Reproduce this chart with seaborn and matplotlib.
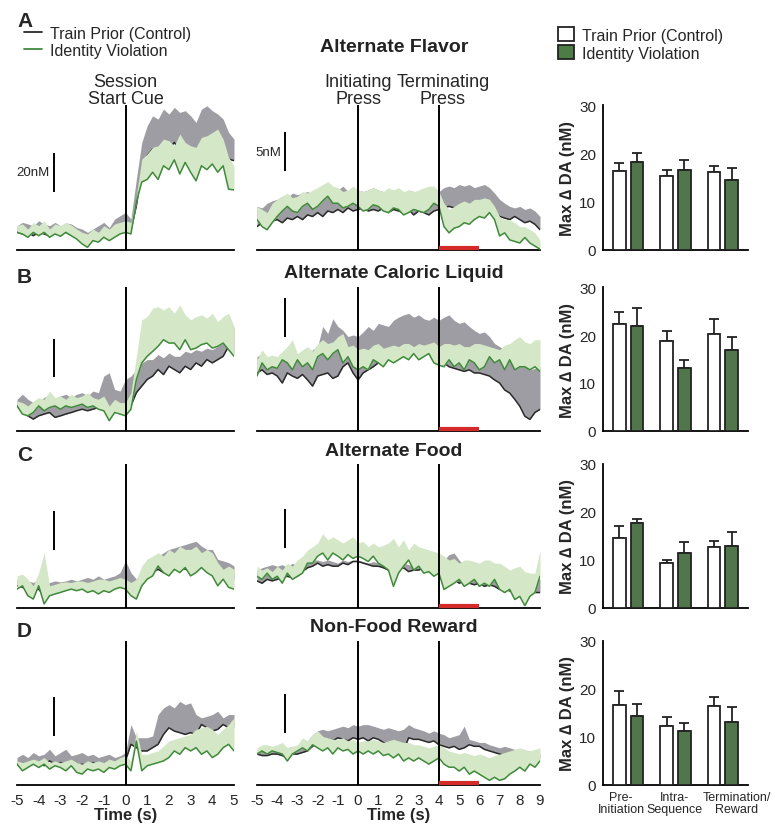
import numpy as np
import pandas as pd
import matplotlib
matplotlib.use("Agg")
import matplotlib.pyplot as plt
import seaborn as sns
from matplotlib.lines import Line2D
from matplotlib.patches import Patch
import matplotlib.transforms as mtransforms

# ---------------- data ----------------
t_left = np.arange(-5, 5.001, 0.25)    # Session start cue window (s)
t_right = np.arange(-5, 9.001, 0.25)   # Initiating press window (s)

# Row A - Alternate Flavor
A_L_ctrl_mean = [9.0,8.2,9.0,7.3,9.0,8.2,7.3,9.0,8.2,9.0,7.6,6.5,4.8,3.1,5.6,4.8,7.3,6.5,8.2,9.0,10.7,
                 9.9,22.6,39.6,48.1,51.5,49.8,53.2,51.5,54.9,50.7,53.2,51.5,48.1,52.4,51.5,54.1,50.7,52.4,46.4,45.6]
A_L_ctrl_upper = [12.4,14.1,13.3,12.4,14.9,13.3,12.4,14.1,12.4,13.8,13.3,11.5,10.7,9.0,10.7,12.4,14.1,11.5,15.8,17.5,19.2,
                  15.8,36.2,54.9,63.4,68.5,66.8,71.9,69.4,72.8,70.2,71.1,68.5,65.1,71.9,73.6,71.1,69.4,66.8,60.0,56.6]
A_L_viol_mean = [9.0,8.2,6.5,9.0,7.3,9.0,6.5,8.2,7.0,9.0,7.3,5.6,3.1,1.4,4.8,4.0,6.5,4.8,6.5,8.2,9.0,
                 8.2,24.5,34.7,36.0,39.7,36.0,43.0,41.0,46.0,38.8,44.7,39.7,35.3,43.0,41.0,43.9,39.7,43.0,31.0,30.7]
A_L_viol_upper = [12.4,13.3,10.7,14.1,12.4,14.9,10.7,13.3,12.4,14.1,12.7,10.7,9.0,8.2,10.7,9.0,12.4,10.7,13.3,14.1,14.9,
                  14.1,27.7,46.4,49.0,52.4,53.2,56.6,55.8,53.2,59.2,54.9,53.2,52.4,57.5,58.3,60.0,61.7,56.6,47.3,43.0]
A_R_ctrl_mean = [3.0,3.5,2.8,3.7,3.9,3.5,4.1,3.9,4.3,3.9,4.5,4.3,4.8,4.3,5.0,4.8,5.2,4.8,5.4,5.0,
                 5.2,5.4,5.0,5.2,5.0,5.4,4.8,5.2,5.0,4.8,5.2,4.5,5.0,4.8,4.5,5.0,5.2,5.4,5.6,5.4,5.6,5.2,5.6,5.4,5.8,5.6,5.6,5.0,4.3,4.1,3.9,4.3,3.9,3.5,3.7,3.3,2.6]
A_R_ctrl_upper = [5.6,5.4,6.0,6.3,6.5,6.9,6.7,7.3,7.1,7.3,7.5,7.1,7.3,7.7,7.5,8.0,7.7,8.2,7.5,7.7,
                  7.7,7.5,7.7,8.0,7.7,7.5,7.3,7.7,7.5,7.3,7.7,7.5,7.3,7.7,7.5,7.3,7.5,8.0,8.2,8.0,8.4,8.2,8.4,8.0,8.2,8.4,8.0,7.3,6.5,6.0,5.6,5.4,5.6,5.2,5.4,5.0,4.3]
A_R_viol_mean = [3.9,3.0,2.6,3.5,4.3,5.0,5.6,5.0,4.8,5.6,6.0,5.2,5.6,6.3,6.9,6.0,6.0,5.4,5.6,6.0,
                 5.6,5.0,5.2,5.8,5.6,5.0,4.8,5.4,5.2,4.5,4.8,5.2,5.0,4.8,5.2,6.0,5.6,3.0,2.2,2.8,3.0,3.5,3.3,3.9,4.3,4.1,4.8,3.9,1.8,2.2,1.3,1.1,0.9,1.6,0.9,0.5,0.1]
A_R_viol_upper = [5.6,5.2,4.8,6.0,6.5,6.9,7.3,6.7,6.9,7.5,7.3,7.7,8.0,8.4,8.8,8.2,8.0,7.5,7.7,8.2,
                  7.7,7.5,7.7,8.0,7.7,7.5,8.0,7.7,8.0,7.5,7.7,7.5,7.7,8.0,8.2,8.2,7.5,6.0,5.2,5.6,6.0,6.3,6.0,6.5,6.5,6.7,6.5,5.6,4.3,3.9,3.9,3.5,3.0,3.0,2.6,2.2,1.3]

# Row B - Alternate Caloric Liquid
B_L_ctrl_mean = [12.9,11.2,7.8,6.1,7.8,8.7,9.5,7.0,7.8,8.7,9.5,10.4,11.2,10.4,11.2,12.1,12.9,12.1,12.1,12.9,10.4,
                 12.9,19.7,23.1,26.5,28.2,31.6,29.0,33.3,31.6,29.9,33.3,31.6,35.0,33.3,36.7,35.0,36.7,38.4,43.5,40.1]
B_L_ctrl_upper = [16.3,18.9,16.3,14.6,15.4,17.2,18.9,16.3,18.0,18.9,17.2,18.9,19.7,18.0,20.5,19.7,28.2,29.9,21.4,20.5,26.5,
                  28.2,31.6,35.0,36.7,36.7,39.3,37.6,40.1,38.4,38.4,41.0,40.1,41.8,41.0,42.6,41.8,43.5,45.2,48.6,53.7]
B_L_viol_mean = [12.9,8.7,7.8,9.5,12.9,10.4,12.1,12.9,11.2,12.9,12.1,12.9,13.8,12.1,12.9,11.2,10.4,5.3,9.5,8.7,7.8,
                 11.2,26.5,35.0,38.4,40.9,43.5,46.9,45.2,45.2,41.8,46.9,41.8,42.6,44.4,45.2,42.6,43.5,45.2,41.8,38.4]
B_L_viol_upper = [15.4,14.6,12.9,15.4,17.2,16.3,20.5,17.2,18.0,16.3,18.9,17.2,18.0,19.7,17.2,16.3,18.0,12.9,16.3,14.6,14.6,
                  19.7,38.4,57.1,58.8,63.1,63.9,62.2,63.9,60.5,64.8,59.7,57.1,58.8,59.7,58.0,60.5,56.2,58.8,60.5,53.7]
B_R_ctrl_mean = [7.5,7.9,7.3,7.5,7.1,6.2,7.5,7.1,6.8,7.3,6.6,5.8,7.1,7.3,7.5,6.8,7.1,8.3,8.8,7.5,
                 6.6,7.5,7.9,8.3,8.8,9.0,9.2,9.6,10.0,9.8,10.5,10.3,10.5,10.0,10.0,9.6,9.2,8.8,8.3,8.1,7.9,7.7,7.9,7.5,7.5,7.3,7.1,6.6,6.2,5.3,4.9,4.1,3.2,1.9,1.5,2.4,2.8]
B_R_ctrl_upper = [9.6,10.0,9.2,9.0,8.8,9.2,9.6,9.4,9.2,9.6,9.8,10.5,10.9,13.5,12.6,14.5,13.5,13.0,12.2,12.4,
                  12.2,12.8,13.5,13.0,13.9,13.7,13.5,14.3,14.7,15.0,15.2,14.7,15.0,14.5,14.3,14.7,14.3,14.7,15.0,14.3,13.9,14.1,13.5,13.0,12.6,12.8,12.2,11.3,10.9,10.5,9.6,9.2,8.8,8.3,7.9,8.1,8.3]
B_R_viol_mean = [7.1,8.8,7.9,8.3,8.1,9.2,8.8,7.9,9.2,8.3,8.8,7.9,9.6,10.0,9.2,10.0,10.5,8.8,9.6,8.3,
                 7.9,8.3,7.9,9.2,8.8,8.3,9.2,8.8,9.2,9.6,9.2,10.0,9.2,9.6,10.0,8.8,8.5,8.3,9.2,8.3,8.8,7.9,9.2,8.8,7.9,8.3,9.6,8.8,9.2,7.9,9.2,7.9,8.3,8.3,7.9,8.3,7.7]
B_R_viol_upper = [9.2,10.5,9.6,9.8,9.6,10.3,10.9,11.8,10.0,10.5,10.9,10.3,11.3,11.8,11.3,11.5,12.2,12.6,10.9,11.1,
                  10.5,10.7,10.5,11.1,11.3,10.7,10.9,11.1,10.9,11.3,11.3,10.9,11.3,11.1,11.3,11.5,10.9,11.3,11.3,11.1,11.3,10.9,10.9,11.3,11.3,11.1,10.9,10.7,10.5,11.1,11.3,11.8,12.2,11.5,11.3,11.8,11.8]

# Row C - Alternate Food
C_L_ctrl_mean = [11.4,10.6,9.7,8.9,9.7,6.3,8.9,9.7,9.7,10.6,10.6,10.0,10.6,9.7,9.7,8.9,10.6,9.7,11.4,10.6,11.4,
                 10.6,11.4,13.9,16.5,18.2,19.9,18.2,19.0,19.9,20.8,19.9,19.9,21.6,20.8,19.9,18.2,17.4,16.5,14.8,14.8]
C_L_ctrl_upper = [14.8,13.1,13.9,13.1,14.8,11.4,13.1,13.9,13.4,13.9,14.8,13.9,14.8,15.7,14.8,16.5,14.8,15.7,16.5,18.2,24.2,
                  18.2,14.8,19.9,25.0,25.9,26.7,28.4,30.1,30.9,31.8,32.6,33.5,34.3,31.8,30.1,30.1,25.0,24.2,23.3,21.6]
C_L_viol_mean = [9.7,11.4,6.3,4.6,11.4,2.1,6.3,7.2,8.0,8.9,9.7,8.9,9.7,8.0,8.9,7.2,8.9,8.0,9.7,10.6,9.7,
                 6.3,4.6,11.4,14.8,16.5,21.6,18.2,16.5,19.9,18.2,20.8,16.5,18.2,20.8,18.2,16.5,11.4,14.8,10.6,9.7]
C_L_viol_upper = [16.5,17.4,14.8,11.4,18.2,28.4,11.4,12.2,13.1,13.4,13.1,13.9,13.9,13.1,13.9,14.8,14.8,13.9,14.8,15.7,14.8,
                  13.1,14.8,21.6,25.0,26.7,28.4,26.7,30.1,28.4,31.8,30.1,30.1,31.8,28.4,30.1,28.4,23.3,19.9,21.6,19.9]
C_R_ctrl_mean = [3.5,3.2,3.7,3.5,3.7,3.9,4.1,3.9,4.1,4.7,5.2,5.4,5.8,5.4,5.6,5.4,5.4,5.8,5.6,6.0,
                 6.0,5.8,5.6,5.4,5.4,5.2,4.9,5.4,4.9,5.2,4.7,4.9,4.9,5.2,4.7,4.5,4.5,3.7,3.5,3.7,3.2,3.5,3.2,3.0,3.2,2.8,3.0,2.8,2.4,2.6,2.2,2.4,2.0,2.2,1.7,2.0,2.0]
C_R_ctrl_upper = [4.9,5.2,5.4,5.6,5.4,5.6,5.2,5.8,5.4,5.8,6.0,6.2,6.2,6.0,6.2,6.0,5.8,6.2,6.0,6.2,
                  6.2,6.0,5.8,6.0,5.8,6.2,6.9,7.1,6.4,5.8,5.6,5.4,5.4,5.6,5.2,5.4,4.9,6.2,6.9,7.1,6.2,5.4,5.2,4.7,4.5,4.3,4.1,4.3,4.1,3.7,3.9,4.1,4.5,3.7,3.2,3.7,3.7]
C_R_viol_mean = [4.1,3.7,4.5,3.7,4.1,3.2,4.5,3.7,4.1,4.5,5.8,5.8,6.7,7.1,6.2,7.1,6.7,6.2,6.9,6.4,
                 6.7,6.4,6.0,6.7,5.8,5.4,4.9,2.8,4.5,5.4,6.2,4.9,5.4,4.5,4.7,4.1,4.5,2.4,2.8,3.2,3.7,2.8,3.2,3.7,2.8,3.2,2.8,3.7,2.4,2.0,2.4,1.1,1.5,0.3,1.5,2.0,4.1]
C_R_viol_upper = [5.4,4.9,5.2,4.7,5.4,4.9,5.8,5.4,6.2,6.7,7.5,7.9,8.4,9.6,8.8,9.2,8.8,8.4,8.8,9.2,
                  8.4,8.6,7.9,8.4,7.9,8.1,8.4,9.0,7.9,8.8,7.5,8.4,7.9,7.7,7.5,7.3,7.1,6.7,6.2,6.4,5.8,6.2,6.2,6.0,5.8,6.2,6.2,5.8,5.8,5.4,4.9,5.2,5.4,4.7,4.5,4.5,7.5]

# Row D - Non-Food Reward
D_L_ctrl_mean = [10.7,9.0,9.9,10.7,11.5,9.9,12.4,10.7,11.5,10.7,12.4,9.9,10.7,9.9,11.5,9.9,10.7,9.9,11.5,10.7,12.4,
                 20.9,19.2,17.5,17.5,19.2,20.9,26.0,29.4,27.7,26.9,26.0,26.9,26.0,31.1,29.4,27.7,28.6,31.1,29.4,29.4]
D_L_ctrl_upper = [14.1,15.8,14.1,16.7,15.0,15.8,18.4,15.0,16.7,18.4,15.0,15.8,16.7,15.0,15.8,14.1,15.0,15.8,14.1,15.0,16.7,
                  31.1,24.3,24.3,24.3,25.2,36.2,39.6,41.3,39.6,43.0,41.3,42.2,36.2,34.5,35.3,36.2,37.9,34.5,36.2,36.2]
D_L_viol_mean = [10.7,7.3,9.0,10.7,9.0,10.7,8.2,9.9,9.0,7.3,9.9,6.5,5.6,8.2,7.3,8.2,6.5,9.0,8.2,9.9,10.7,
                 7.3,22.6,7.3,9.9,10.7,11.5,12.4,14.1,17.5,15.8,19.2,17.5,19.2,15.8,17.5,14.1,15.8,19.2,20.9,17.5]
D_L_viol_upper = [12.4,11.5,12.4,13.3,12.4,14.1,11.5,12.4,11.5,12.4,13.3,11.5,10.7,12.4,11.5,12.4,11.5,13.3,12.4,14.1,15.0,
                  12.4,27.7,15.8,15.8,16.7,17.5,20.0,22.6,23.5,24.3,25.2,26.0,28.6,29.4,30.2,28.6,26.0,28.6,31.1,34.5]
D_R_ctrl_mean = [4.0,3.8,3.8,4.0,4.0,3.8,3.5,4.0,4.0,4.2,4.4,5.0,5.5,6.1,5.9,5.7,6.1,5.9,5.7,6.1,
                 5.9,6.1,5.7,6.1,5.9,5.5,5.2,5.5,5.2,4.4,6.1,5.9,5.9,5.7,5.5,5.7,5.2,5.0,4.8,5.0,4.6,4.8,5.2,5.0,5.0,4.6,4.4,4.2,4.0,3.8,3.5,3.3,3.1,2.9,2.9,3.1,3.5]
D_R_ctrl_upper = [4.4,4.6,4.8,4.6,4.8,5.0,4.8,5.0,4.8,5.2,5.7,6.5,7.0,7.2,7.0,7.2,7.4,7.6,7.4,7.8,
                  7.6,7.8,7.8,7.6,7.4,7.2,7.4,7.2,7.0,7.2,7.8,7.4,7.2,7.0,6.7,7.0,6.7,6.5,6.1,6.3,6.5,7.6,5.9,5.7,5.5,5.5,5.2,5.0,4.8,5.0,4.8,4.6,4.4,4.4,4.4,4.2,4.0]
D_R_viol_mean = [4.0,4.4,4.0,4.4,4.2,4.0,3.1,4.0,4.4,4.8,4.4,5.2,4.8,4.4,4.8,4.0,4.8,4.4,4.6,4.0,
                 4.4,4.0,4.4,4.0,4.4,3.8,4.0,3.5,4.0,3.1,3.5,3.1,3.5,3.1,2.7,3.1,3.5,2.7,2.3,2.3,1.8,2.3,1.4,1.8,1.4,1.0,0.6,1.0,0.6,0.8,1.4,1.8,2.3,1.8,2.7,2.3,3.1]
D_R_viol_upper = [4.8,5.2,5.2,5.0,5.2,5.5,4.8,5.0,5.2,6.1,5.7,6.5,7.0,6.3,6.1,5.9,5.9,6.1,5.7,5.9,
                  5.5,5.7,5.7,5.9,5.7,5.5,5.7,5.9,5.7,5.5,5.5,5.2,5.2,5.0,4.8,5.0,5.2,4.8,4.4,4.2,4.0,4.2,4.0,3.8,4.0,3.8,3.5,3.8,4.0,4.2,4.4,4.6,4.8,4.6,4.4,4.6,4.8]

# Bar data: Max delta DA (nM), mean and SEM
bar_categories = ["Pre-\nInitiation", "Intra-\nSequence", "Termination/\nReward"]
groups = ["Train Prior (Control)", "Identity Violation"]
A_bar_ctrl = [16.4, 15.3, 16.2]; A_err_ctrl = [1.6, 1.3, 1.2]
A_bar_viol = [18.2, 16.5, 14.5]; A_err_viol = [1.8, 2.2, 2.4]
B_bar_ctrl = [22.3, 18.7, 20.2]; B_err_ctrl = [2.4, 2.2, 3.2]
B_bar_viol = [21.9, 13.1, 16.9]; B_err_viol = [3.8, 1.7, 2.6]
C_bar_ctrl = [14.5, 9.3, 12.8];  C_err_ctrl = [2.6, 0.7, 1.2]
C_bar_viol = [17.8, 11.4, 12.9]; C_err_viol = [0.7, 2.3, 2.9]
D_bar_ctrl = [16.7, 12.2, 16.4]; D_err_ctrl = [2.8, 1.9, 2.0]
D_bar_viol = [14.3, 11.3, 13.2]; D_err_viol = [2.5, 1.6, 3.0]

titles = ["Alternate Flavor", "Alternate Caloric Liquid", "Alternate Food", "Non-Food Reward"]
letters = ["A", "B", "C", "D"]
SCALE_LEFT = 20   # nM
SCALE_RIGHT = 5   # nM

rows = [
    (A_L_ctrl_mean, A_L_ctrl_upper, A_L_viol_mean, A_L_viol_upper,
     A_R_ctrl_mean, A_R_ctrl_upper, A_R_viol_mean, A_R_viol_upper,
     A_bar_ctrl, A_err_ctrl, A_bar_viol, A_err_viol),
    (B_L_ctrl_mean, B_L_ctrl_upper, B_L_viol_mean, B_L_viol_upper,
     B_R_ctrl_mean, B_R_ctrl_upper, B_R_viol_mean, B_R_viol_upper,
     B_bar_ctrl, B_err_ctrl, B_bar_viol, B_err_viol),
    (C_L_ctrl_mean, C_L_ctrl_upper, C_L_viol_mean, C_L_viol_upper,
     C_R_ctrl_mean, C_R_ctrl_upper, C_R_viol_mean, C_R_viol_upper,
     C_bar_ctrl, C_err_ctrl, C_bar_viol, C_err_viol),
    (D_L_ctrl_mean, D_L_ctrl_upper, D_L_viol_mean, D_L_viol_upper,
     D_R_ctrl_mean, D_R_ctrl_upper, D_R_viol_mean, D_R_viol_upper,
     D_bar_ctrl, D_err_ctrl, D_bar_viol, D_err_viol),
]

# ---------------- layout / style ----------------
W, H = 772, 828
row_px = [(106, 251), (288, 432), (465, 609), (642, 786)]   # top, bottom pixels
letter_px = [12, 268, 446, 622]
title_px = [47, 273, 452, 628]
scale_left_base = [29.6, 27.5, 29.6, 25.0]
scale_right_base = [10.1, 12.2, 7.8, 6.7]
# category label placement (x in category units, horizontal alignment)
cat_label_pos = [(-0.15, "center"), (0.97, "center"), (1.57, "left")]

GRAY_BAND = "#9e9da3"
BLACK_LINE = "#2a2a2a"
GREEN_BAND = "#d4e7c7"
GREEN_LINE = "#3f8a3b"
BAR_GREEN = "#4b7d45"
EDGE = "#222222"
RED = "#d42a2a"

sns.set_theme(style="white")
plt.rcParams["font.family"] = ["Liberation Sans", "DejaVu Sans"]
plt.rcParams["axes.linewidth"] = 1.3

fig = plt.figure(figsize=(W / 100, H / 100), dpi=100)


def frac_box(x0, x1, top, bot):
    return [x0 / W, 1 - bot / H, (x1 - x0) / W, (bot - top) / H]


def draw_trace(ax, t, cm, cu, vm, vu):
    ax.fill_between(t, cm, cu, color=GRAY_BAND, lw=0, zorder=1)
    sns.lineplot(x=t, y=cm, ax=ax, color=BLACK_LINE, lw=1.1, estimator=None, zorder=2)
    ax.fill_between(t, vm, vu, color=GREEN_BAND, lw=0, zorder=3)
    sns.lineplot(x=t, y=vm, ax=ax, color=GREEN_LINE, lw=1.1, estimator=None, zorder=4)


def style_trace(ax, xmin, xmax, ymax, show_labels):
    ax.set_xlim(xmin, xmax)
    ax.set_ylim(0, ymax)
    for s in ["left", "top", "right"]:
        ax.spines[s].set_visible(False)
    ax.spines["bottom"].set_color("black")
    ax.set_yticks([])
    ax.set_xticks(range(int(xmin), int(xmax) + 1))
    ax.tick_params(axis="x", direction="out", length=5, width=1.3, color="black",
                   pad=1, labelbottom=show_labels)
    ax.set_ylabel("")
    if show_labels:
        ax.set_xticklabels([str(v) for v in range(int(xmin), int(xmax) + 1)], fontsize=11)
        ax.set_xlabel("Time (s)", fontsize=12, fontweight="bold", labelpad=0)
    else:
        ax.set_xlabel("")


for i, r in enumerate(rows):
    (lcm, lcu, lvm, lvu, rcm, rcu, rvm, rvu, bc, bce, bv, bve) = r
    top, bot = row_px[i]
    last = i == len(rows) - 1

    # ----- left trace: session start cue -----
    axL = fig.add_axes(frac_box(17, 234, top, bot))
    draw_trace(axL, t_left, lcm, lcu, lvm, lvu)
    style_trace(axL, -5, 5, 74, last)
    axL.axvline(0, color="black", lw=1.4, zorder=6)
    sb = scale_left_base[i]
    axL.plot([-3.3, -3.3], [sb, sb + SCALE_LEFT], color="black", lw=1.4,
             solid_capstyle="butt", zorder=6)
    if i == 0:
        axL.text(-3.5, sb + SCALE_LEFT / 2, "20nM", ha="right", va="center", fontsize=9.5)
        axL.text(0, 1.012, "Session\nStart Cue", transform=axL.get_xaxis_transform(),
                 ha="center", va="baseline", fontsize=13, linespacing=1.05)

    # ----- right trace: lever presses -----
    axR = fig.add_axes(frac_box(257, 540, top, bot))
    draw_trace(axR, t_right, rcm, rcu, rvm, rvu)
    style_trace(axR, -5, 9, 18.6, last)
    axR.axvline(0, color="black", lw=1.4, zorder=6)
    axR.axvline(4, color="black", lw=1.4, zorder=6)
    axR.plot([4, 6], [0.3, 0.3], color=RED, lw=3, solid_capstyle="butt",
             clip_on=False, zorder=7)
    sb = scale_right_base[i]
    axR.plot([-3.6, -3.6], [sb, sb + SCALE_RIGHT], color="black", lw=1.4,
             solid_capstyle="butt", zorder=6)
    if i == 0:
        axR.text(-3.8, sb + SCALE_RIGHT / 2, "5nM", ha="right", va="center", fontsize=9.5)
        axR.text(0, 1.012, "Initiating\nPress", transform=axR.get_xaxis_transform(),
                 ha="center", va="baseline", fontsize=13, linespacing=1.05)
        axR.text(4.2, 1.012, "Terminating\nPress", transform=axR.get_xaxis_transform(),
                 ha="center", va="baseline", fontsize=13, linespacing=1.05)

    # ----- bars -----
    axB = fig.add_axes(frac_box(603, 748, top, bot))
    df = pd.DataFrame({
        "phase": bar_categories * 2,
        "group": [groups[0]] * 3 + [groups[1]] * 3,
        "value": list(bc) + list(bv),
    })
    sns.barplot(data=df, x="phase", y="value", hue="group", order=bar_categories,
                hue_order=groups, palette={groups[0]: "white", groups[1]: BAR_GREEN},
                edgecolor=EDGE, linewidth=1.3, width=0.75, gap=0.28, errorbar=None,
                legend=False, ax=axB, zorder=3)
    for cont, errs in zip(axB.containers, [bce, bve]):
        xs = [p.get_x() + p.get_width() / 2 for p in cont.patches]
        ys = [p.get_height() for p in cont.patches]
        axB.errorbar(xs, ys, yerr=[[0] * len(errs), errs], fmt="none", ecolor=EDGE,
                     elinewidth=1.3, capsize=3.5, capthick=1.3, zorder=2)
    axB.set_xlim(-0.53, 2.53)
    axB.set_ylim(0, 30)
    axB.set_yticks([0, 10, 20, 30])
    axB.set_yticklabels(["0", "10", "20", "30"], fontsize=11)
    for s in ["top", "right"]:
        axB.spines[s].set_visible(False)
    for s in ["left", "bottom"]:
        axB.spines[s].set_color("black")
    axB.tick_params(axis="both", direction="out", length=4, width=1.3, color="black", pad=1)
    axB.set_ylabel("Max \u2206 DA (nM)", fontsize=12, fontweight="bold", labelpad=3)
    axB.set_xlabel("")
    axB.set_xticks([0, 1, 2])
    axB.set_xticklabels([])
    if last:
        off = mtransforms.ScaledTranslation(0, -6 / 100, fig.dpi_scale_trans)
        for lab, (xp, ha) in zip(bar_categories, cat_label_pos):
            axB.text(xp, 0, lab, transform=axB.get_xaxis_transform() + off,
                     ha=ha, va="top", multialignment="center", fontsize=9,
                     linespacing=1.05, clip_on=False)

    # ----- row decorations -----
    fig.text(17 / W, 1 - letter_px[i] / H, letters[i], ha="left", va="top",
             fontsize=15, fontweight="bold")
    fig.text(394 / W, 1 - title_px[i] / H, titles[i], ha="center", va="center",
             fontsize=14, fontweight="bold", color="#222222")

# legends
fig.legend(handles=[Line2D([0], [0], color=BLACK_LINE, lw=1.3),
                    Line2D([0], [0], color=GREEN_LINE, lw=1.3)],
           labels=groups, loc="upper left", bbox_to_anchor=(24 / W, 1 - 27 / H),
           frameon=False, fontsize=11.5, handlelength=1.1, handletextpad=0.55,
           labelspacing=0.12, borderpad=0, borderaxespad=0)
fig.legend(handles=[Patch(facecolor="white", edgecolor=EDGE, lw=1.3),
                    Patch(facecolor=BAR_GREEN, edgecolor=EDGE, lw=1.3)],
           labels=groups, loc="upper left", bbox_to_anchor=(558 / W, 1 - 28 / H),
           frameon=False, fontsize=11.5, handlelength=1.0, handleheight=1.0,
           handletextpad=0.5, labelspacing=0.15, borderpad=0, borderaxespad=0)

fig.savefig("out.png", dpi=100)
